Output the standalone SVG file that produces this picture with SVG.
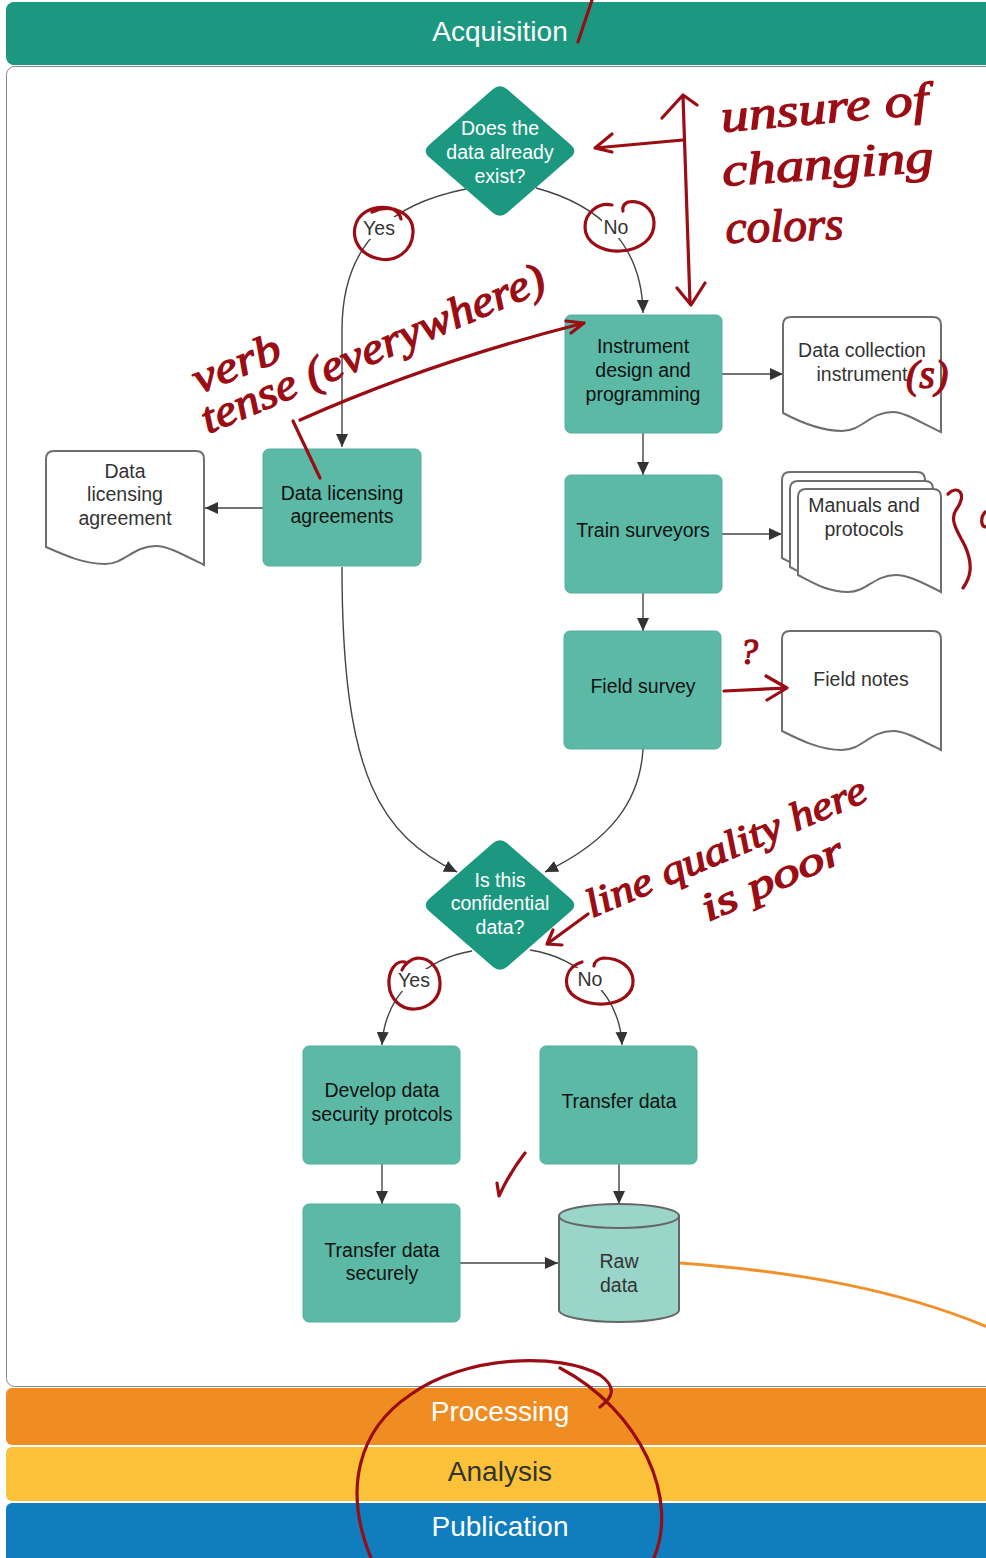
<svg xmlns="http://www.w3.org/2000/svg" width="986" height="1558" viewBox="0 0 986 1558">
<defs>
<style>
.band{font-family:"Liberation Sans",Arial,sans-serif;font-size:28px;text-anchor:middle}
.box{fill:#5BB9A6;stroke:#52AE9B;stroke-width:1}
.dia{fill:#1C9880}
.doc{fill:#fff;stroke:#6E6E6E;stroke-width:2}
.t{font-family:"Liberation Sans",Arial,sans-serif;font-size:19.5px;text-anchor:middle;fill:#111}
.tw{font-family:"Liberation Sans",Arial,sans-serif;font-size:19.5px;text-anchor:middle;fill:#fff}
.tg{font-family:"Liberation Sans",Arial,sans-serif;font-size:19.5px;text-anchor:middle;fill:#333}
.c{fill:none;stroke:#444;stroke-width:1.4}
.r{fill:none;stroke:#9B0D14;stroke-width:3.2;stroke-linecap:round;stroke-linejoin:round}
.hw{font-family:"Liberation Serif",serif;font-style:italic;fill:#9B0D14;stroke:#9B0D14;stroke-width:1.3;stroke-linejoin:round}
</style>
<marker id="ah" markerUnits="userSpaceOnUse" markerWidth="13" markerHeight="12" refX="13" refY="6" orient="auto">
<path d="M0,0 L13,6 L0,12 Z" fill="#333"/>
</marker>
</defs>

<g id="lanes">
<rect x="6.5" y="66.5" width="995" height="1320" rx="8" fill="#fff" stroke="#888" stroke-width="1"/>
<rect x="6" y="2" width="995" height="63" rx="8" fill="#1C9880"/>
<text class="band" x="500" y="41" fill="#fff">Acquisition</text>
<rect x="6" y="1388" width="995" height="57" rx="6" fill="#EF8D22"/>
<text class="band" x="500" y="1421" fill="#fff">Processing</text>
<rect x="6" y="1447" width="995" height="54" rx="6" fill="#FBC239"/>
<text class="band" x="500" y="1481" fill="#333">Analysis</text>
<rect x="6" y="1503" width="995" height="62" rx="6" fill="#0F7DBE"/>
<text class="band" x="500" y="1536" fill="#fff">Publication</text>
</g>

<g id="connectors">
<path class="c" d="M466,189 C395,203 342,240 342,330 L342,447" marker-end="url(#ah)"/>
<path class="c" d="M536,188 C600,205 642,245 643,313" marker-end="url(#ah)"/>
<path class="c" d="M722,374 L783,374" marker-end="url(#ah)"/>
<path class="c" d="M643,433 L643,475" marker-end="url(#ah)"/>
<path class="c" d="M722,534 L782,534" marker-end="url(#ah)"/>
<path class="c" d="M643,593 L643,631" marker-end="url(#ah)"/>
<path class="c" d="M263,508 L205,508" marker-end="url(#ah)"/>
<path class="c" d="M342,567 C342,780 382,835 457,872" marker-end="url(#ah)"/>
<path class="c" d="M643,749 C640,800 612,840 545,872" marker-end="url(#ah)"/>
<path class="c" d="M472,951 C430,958 385,990 382,1045" marker-end="url(#ah)"/>
<path class="c" d="M530,950 C580,958 620,995 622,1045" marker-end="url(#ah)"/>
<path class="c" d="M382,1164 L382,1204" marker-end="url(#ah)"/>
<path class="c" d="M619,1164 L619,1204" marker-end="url(#ah)"/>
<path class="c" d="M460,1263 L558,1263" marker-end="url(#ah)"/>
<path d="M680,1263 C800,1272 900,1290 990,1328" fill="none" stroke="#F0922B" stroke-width="3"/>
<g id="edge-labels">
<rect x="362" y="217" width="34" height="22" fill="#fff"/>
<text class="tg" x="379" y="235">Yes</text>
<rect x="602" y="216" width="29" height="22" fill="#fff"/>
<text class="tg" x="616" y="234">No</text>
<rect x="397" y="969" width="34" height="22" fill="#fff"/>
<text class="tg" x="414" y="987">Yes</text>
<rect x="576" y="968" width="29" height="22" fill="#fff"/>
<text class="tg" x="590" y="986">No</text>
</g>
</g>

<g id="n-exist">
<path class="dia" d="M492.5,89.6 Q500,83 507.5,89.6 L570.5,144.4 Q578,151 570.5,157.6 L507.5,212.4 Q500,219 492.5,212.4 L429.5,157.6 Q422,151 429.5,144.4 Z"/>
<text class="tw" x="500" y="135">Does the</text>
<text class="tw" x="500" y="159">data already</text>
<text class="tw" x="500" y="183">exist?</text>
</g>

<g id="n-instrument">
<rect class="box" x="565" y="315" width="157" height="118" rx="6"/>
<text class="t" x="643" y="353">Instrument</text>
<text class="t" x="643" y="377">design and</text>
<text class="t" x="643" y="401">programming</text>
</g>

<g id="n-datacollection">
<path class="doc" d="M783,325 Q783,317 791,317 L933,317 Q941,317 941,325 L941,432 C916,420 903,412 893,412 C870,412 862,431 842,431 C820,431 800,422 783,413 Z"/>
<text class="tg" x="862" y="357">Data collection</text>
<text class="tg" x="862" y="381">instrument</text>
</g>

<g id="n-train">
<rect class="box" x="565" y="475" width="157" height="118" rx="6"/>
<text class="t" x="643" y="537">Train surveyors</text>
</g>

<g id="n-manuals">
<path class="doc" d="M782,480 Q782,472 790,472 L917,472 Q925,472 925,480 L925,575 C902,563 890,558 880,558 C858,558 851,575 832,575 C812,575 797,566 782,558 Z"/>
<path class="doc" d="M790,489 Q790,481 798,481 L925,481 Q933,481 933,489 L933,584 C910,572 898,567 888,567 C866,567 859,584 840,584 C820,584 805,575 790,567 Z"/>
<path class="doc" d="M798,497 Q798,489 806,489 L933,489 Q941,489 941,497 L941,592 C918,580 906,575 896,575 C874,575 867,592 848,592 C828,592 813,583 798,575 Z"/>
<text class="tg" x="864" y="512">Manuals and</text>
<text class="tg" x="864" y="536">protocols</text>
</g>

<g id="n-fieldsurvey">
<rect class="box" x="564" y="631" width="157" height="118" rx="6"/>
<text class="t" x="643" y="693">Field survey</text>
</g>

<g id="n-fieldnotes">
<path class="doc" d="M782,639 Q782,631 790,631 L933,631 Q941,631 941,639 L941,750 C917,738 904,731 893,731 C870,731 862,750 842,750 C820,750 800,740 782,731 Z"/>
<text class="tg" x="861" y="686">Field notes</text>
</g>

<g id="n-licensing">
<rect class="box" x="263" y="449" width="158" height="117" rx="6"/>
<text class="t" x="342" y="500">Data licensing</text>
<text class="t" x="342" y="523">agreements</text>
</g>

<g id="n-licensingdoc">
<path class="doc" d="M46,459 Q46,451 54,451 L196,451 Q204,451 204,459 L204,565 C180,553 167,546 156,546 C133,546 125,564 105,564 C84,564 64,555 46,547 Z"/>
<text class="tg" x="125" y="478">Data</text>
<text class="tg" x="125" y="501">licensing</text>
<text class="tg" x="125" y="525">agreement</text>
</g>

<g id="n-confidential">
<path class="dia" d="M492.5,843.6 Q500,837 507.5,843.6 L570.5,898.4 Q578,905 570.5,911.6 L507.5,966.4 Q500,973 492.5,966.4 L429.5,911.6 Q422,905 429.5,898.4 Z"/>
<text class="tw" x="500" y="887">Is this</text>
<text class="tw" x="500" y="910">confidential</text>
<text class="tw" x="500" y="934">data?</text>
</g>

<g id="n-develop">
<rect class="box" x="303" y="1046" width="157" height="118" rx="6"/>
<text class="t" x="382" y="1097">Develop data</text>
<text class="t" x="382" y="1121">security protcols</text>
</g>

<g id="n-transfer">
<rect class="box" x="540" y="1046" width="157" height="118" rx="6"/>
<text class="t" x="619" y="1108">Transfer data</text>
</g>

<g id="n-securely">
<rect class="box" x="303" y="1204" width="157" height="118" rx="6"/>
<text class="t" x="382" y="1257">Transfer data</text>
<text class="t" x="382" y="1280">securely</text>
</g>

<g id="n-rawdata">
<path d="M559,1216 L559,1310 A60,12 0 0 0 679,1310 L679,1216 Z" fill="#9AD5C9" stroke="#666" stroke-width="2"/>
<ellipse cx="619" cy="1216" rx="60" ry="12" fill="#9AD5C9" stroke="#666" stroke-width="2"/>
<text class="tg" x="619" y="1268">Raw</text>
<text class="tg" x="619" y="1292">data</text>
</g>

<g id="annotations">
<path class="r" d="M592,0 L578,42"/>
<path class="r" d="M683,96 L690,303 M662,118 L683,95 L697,105 M677,288 L691,305 L705,283"/>
<path class="r" d="M683,140 L595,148 M612,134 L595,148 L612,152"/>
<text class="hw" font-size="46" transform="translate(722,132) rotate(-5)" textLength="208" lengthAdjust="spacingAndGlyphs">unsure of</text>
<text class="hw" font-size="46" transform="translate(723,186) rotate(-4)" textLength="212" lengthAdjust="spacingAndGlyphs">changing</text>
<text class="hw" font-size="46" transform="translate(726,243) rotate(-2)" textLength="118" lengthAdjust="spacingAndGlyphs">colors</text>
<path class="r" d="M372,212 C392,203 414,213 413,233 C412,252 395,262 380,259 C362,256 352,242 355,227 C358,213 372,205 390,208 C396,210 400,214 401,219"/>
<path class="r" d="M612,205 C598,202 585,213 585,227 C585,243 603,252 620,251 C641,250 655,238 654,222 C653,208 641,200 628,202 C624,204 622,207 623,211"/>
<text class="hw" font-size="44" transform="translate(199,394) rotate(-22)" textLength="92" lengthAdjust="spacingAndGlyphs">verb</text>
<text class="hw" font-size="44" transform="translate(208,434) rotate(-23)" textLength="370" lengthAdjust="spacingAndGlyphs">tense (everywhere)</text>
<path class="r" d="M300,420 Q430,362 584,323 M566,321 L584,323 L571,333"/>
<path class="r" d="M293,421 L320,478" stroke-width="4"/>
<text class="hw" font-size="40" x="906" y="388">(s)</text>
<path class="r" d="M948,494 C958,484 968,494 956,510 C949,520 958,532 965,546 C974,566 970,578 963,588"/>
<path class="r" d="M985,512 C980,518 981,527 986,527"/>
<text class="hw" font-size="36" x="740" y="664">?</text>
<path class="r" d="M724,691 L787,688 M766,676 L787,688 L767,700"/>
<text class="hw" font-size="40" transform="translate(592,918) rotate(-23)" textLength="302" lengthAdjust="spacingAndGlyphs">line quality here</text>
<text class="hw" font-size="40" transform="translate(708,922) rotate(-24)" textLength="152" lengthAdjust="spacingAndGlyphs">is poor</text>
<path class="r" d="M588,914 L547,944 M553,930 L547,944 L562,945"/>
<path class="r" d="M405,962 C395,960 388,972 389,985 C390,1000 402,1010 415,1009 C430,1008 441,997 440,982 C439,968 430,958 418,958 C410,959 404,965 402,970"/>
<path class="r" d="M582,962 C570,966 565,975 567,986 C570,998 588,1005 604,1004 C622,1003 634,993 633,980 C632,967 620,958 603,958 C598,959 594,962 594,966"/>
<path class="r" d="M497,1183 L499,1196 Q510,1172 525,1153" stroke-width="2.5"/>
<path class="r" d="M560,1368 C640,1410 682,1500 652,1562 C622,1625 400,1625 371,1558 C343,1490 358,1430 410,1395 C465,1355 560,1352 600,1375 C618,1388 612,1398 600,1407" stroke-width="2.8"/>
</g>
</svg>
